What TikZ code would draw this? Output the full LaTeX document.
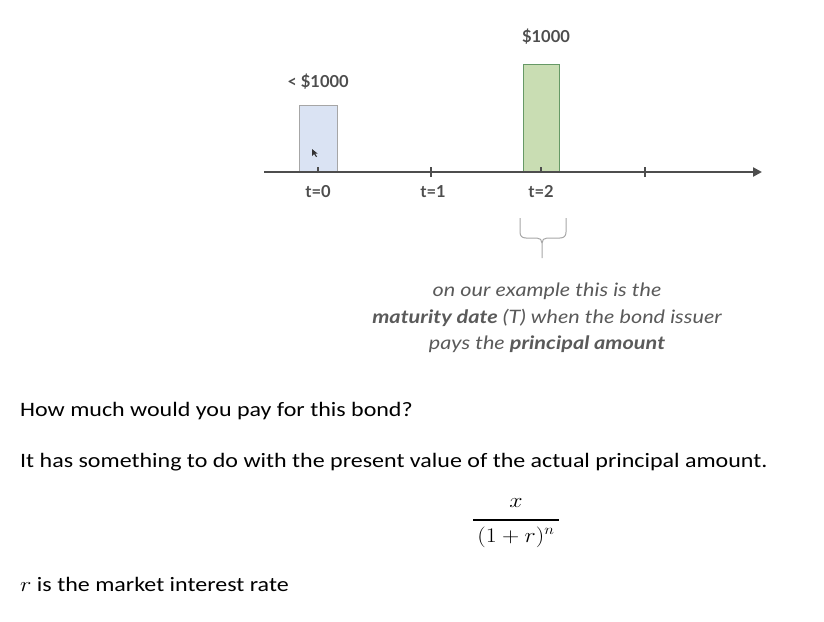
\documentclass[tikz,border=0pt]{standalone}
\usepackage{fontspec}
\usepackage{amsmath}
\usepackage{graphicx}
\setmainfont{Carlito}
\newfontfamily\bodyfont[FakeStretch=1.17]{Carlito}
\newfontfamily\latofont{Lato}
\newfontfamily\notefont[FakeStretch=1.17]{Lato}
\usetikzlibrary{arrows.meta}
\definecolor{axisgray}{HTML}{4D4D4D}
\definecolor{txtgray}{HTML}{5A5A5A}
\definecolor{bluefill}{HTML}{DAE3F3}
\definecolor{greenfill}{HTML}{C9DDB3}
\tikzset{
  lbl/.style={font=\latofont\bfseries\fontsize{16.5}{19}\selectfont, text=axisgray, inner sep=0pt},
  note/.style={font=\notefont\itshape\fontsize{18.5}{26.5}\selectfont, text=txtgray, align=center, inner sep=0pt},
  body/.style={font=\bodyfont\fontsize{20.5}{24}\selectfont, anchor=west, inner sep=0pt},
  mathpart/.style={inner sep=0pt, font=\fontsize{22}{24}\selectfont},
  tickmark/.style={axisgray, line width=2pt},
}
\begin{document}
\begin{tikzpicture}[x=1pt,y=-1pt]
\useasboundingbox (0,0) rectangle (824,621);
% boxes
\draw[fill=bluefill, draw=gray!70, line width=1pt] (299,105) rectangle (337,171);
\draw[fill=greenfill, draw=gray!80!green, line width=1pt] (523,64) rectangle (559,171);
% small cursor mark inside the blue box
\fill[black!80] (312,149) -- (312,156) -- (314,154) -- (316,157) -- (317,156.5) -- (315,153.5) -- (317.5,153.5) -- cycle;
% axis
\coordinate (axstart) at (264,172);
\coordinate (axend) at (762,172);
\draw[axisgray, line width=2.6pt, -{Triangle[length=9pt,width=9pt]}] (axstart) -- (axend);
\coordinate (k0) at (318,172);
\coordinate (k1) at (431,172);
\coordinate (k2) at (541,172);
\coordinate (k3) at (645,172);
\draw[tickmark] ([yshift=-1pt]k0) -- ([yshift=5pt]k0);
\draw[tickmark] ([yshift=-5pt]k1) -- ([yshift=5pt]k1);
\draw[tickmark] ([yshift=-1pt]k2) -- ([yshift=5pt]k2);
\draw[tickmark] ([yshift=-5pt]k3) -- ([yshift=5pt]k3);
% labels
\node[lbl] (l0) at (318,192) {t=0};
\node[lbl] (l1) at (433,192) {t=1};
\node[lbl] (l2) at (541,192) {t=2};
\node[lbl] (a0) at (318,82) {< \$1000};
\node[lbl] (a2) at (546,37) {\$1000};
% brace
\draw[gray!70, line width=1pt, line join=round]
  (520,218) -- (520,232) .. controls (520,236) and (522,238) .. (526,238)
  -- (537,238) .. controls (540,238) and (542,240) .. (542,243) -- (542,258);
\draw[gray!70, line width=1pt, line join=round]
  (566,218) -- (566,232) .. controls (566,236) and (564,238) .. (560,238)
  -- (547,238) .. controls (544,238) and (542,240) .. (542,243);
% note
\node[note] (note) at (547,318) {on our example this is the\\
{\bfseries maturity date} (T) when the bond issuer\\
pays the {\bfseries principal amount}};
% bottom text
\node[body] (q) at (20,411) {How much would you pay for this bond?};
\node[body] (s) at (20,462) {It has something to do with the present value of the actual principal amount.};
\node[mathpart] (num) at (516,503) {\scalebox{1.15}[1]{$x$}};
\node[mathpart] (den) at (516,537) {\scalebox{1.15}[1]{$(1+r)^n$}};
\coordinate (barl) at (473,520);
\coordinate (barr) at (559,520);
\draw[line width=1.5pt] (barl) -- (barr);
\node[body] (r) at (20,584) {\scalebox{1.17}[1]{$r$} is the market interest rate};
\end{tikzpicture}
\end{document}
